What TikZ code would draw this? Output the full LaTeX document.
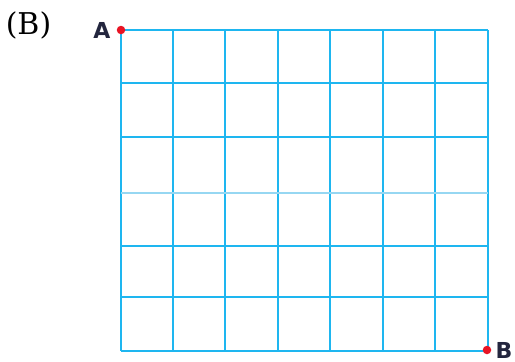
\documentclass[tikz,border=0pt]{standalone}
\usepackage{fontspec}
\usepackage{tikz}
\usetikzlibrary{positioning}
\newfontfamily\tagfont{DejaVu Serif}
\newfontfamily\cornerfont{DejaVu Sans}
\definecolor{gridblue}{RGB}{30,182,240}
\definecolor{midblue}{RGB}{150,215,242}
\definecolor{dotred}{RGB}{232,20,36}
\definecolor{labelink}{RGB}{35,38,62}

\begin{document}
\begin{tikzpicture}[
    x=1pt, y=-1pt,
    gridline/.style={draw=gridblue, line width=2pt},
    midline/.style={draw=midblue, line width=2pt},
    corner/.style={circle, fill=dotred, inner sep=0pt, minimum size=8.5pt},
    cornerlabel/.style={font=\cornerfont\bfseries\fontsize{22}{22}\selectfont, text=labelink, inner sep=0pt},
    tag/.style={font=\tagfont\fontsize{30}{30}\selectfont, inner sep=0pt}
]
\useasboundingbox (0,0) rectangle (515,362);

% Grid
\foreach \x in {121,173,225,278,330,383,435,488}
    \draw [gridline] (\x,30) -- (\x,351);
\foreach \y in {30,83,137,246,297,351}
    \draw [gridline] (121,\y) -- (488,\y);
\draw [midline] (121,193) -- (488,193);

% Nodes
\node (tag) [tag] at (28.5,25) {(B)};
\node (dotA) [corner] at (121,30) {};
\node (dotB) [corner] at (487,350) {};
\node (labA) [cornerlabel, left=6pt of dotA] {A};
\node (labB) [cornerlabel, right=4pt of dotB] {B};

\end{tikzpicture}
\end{document}
